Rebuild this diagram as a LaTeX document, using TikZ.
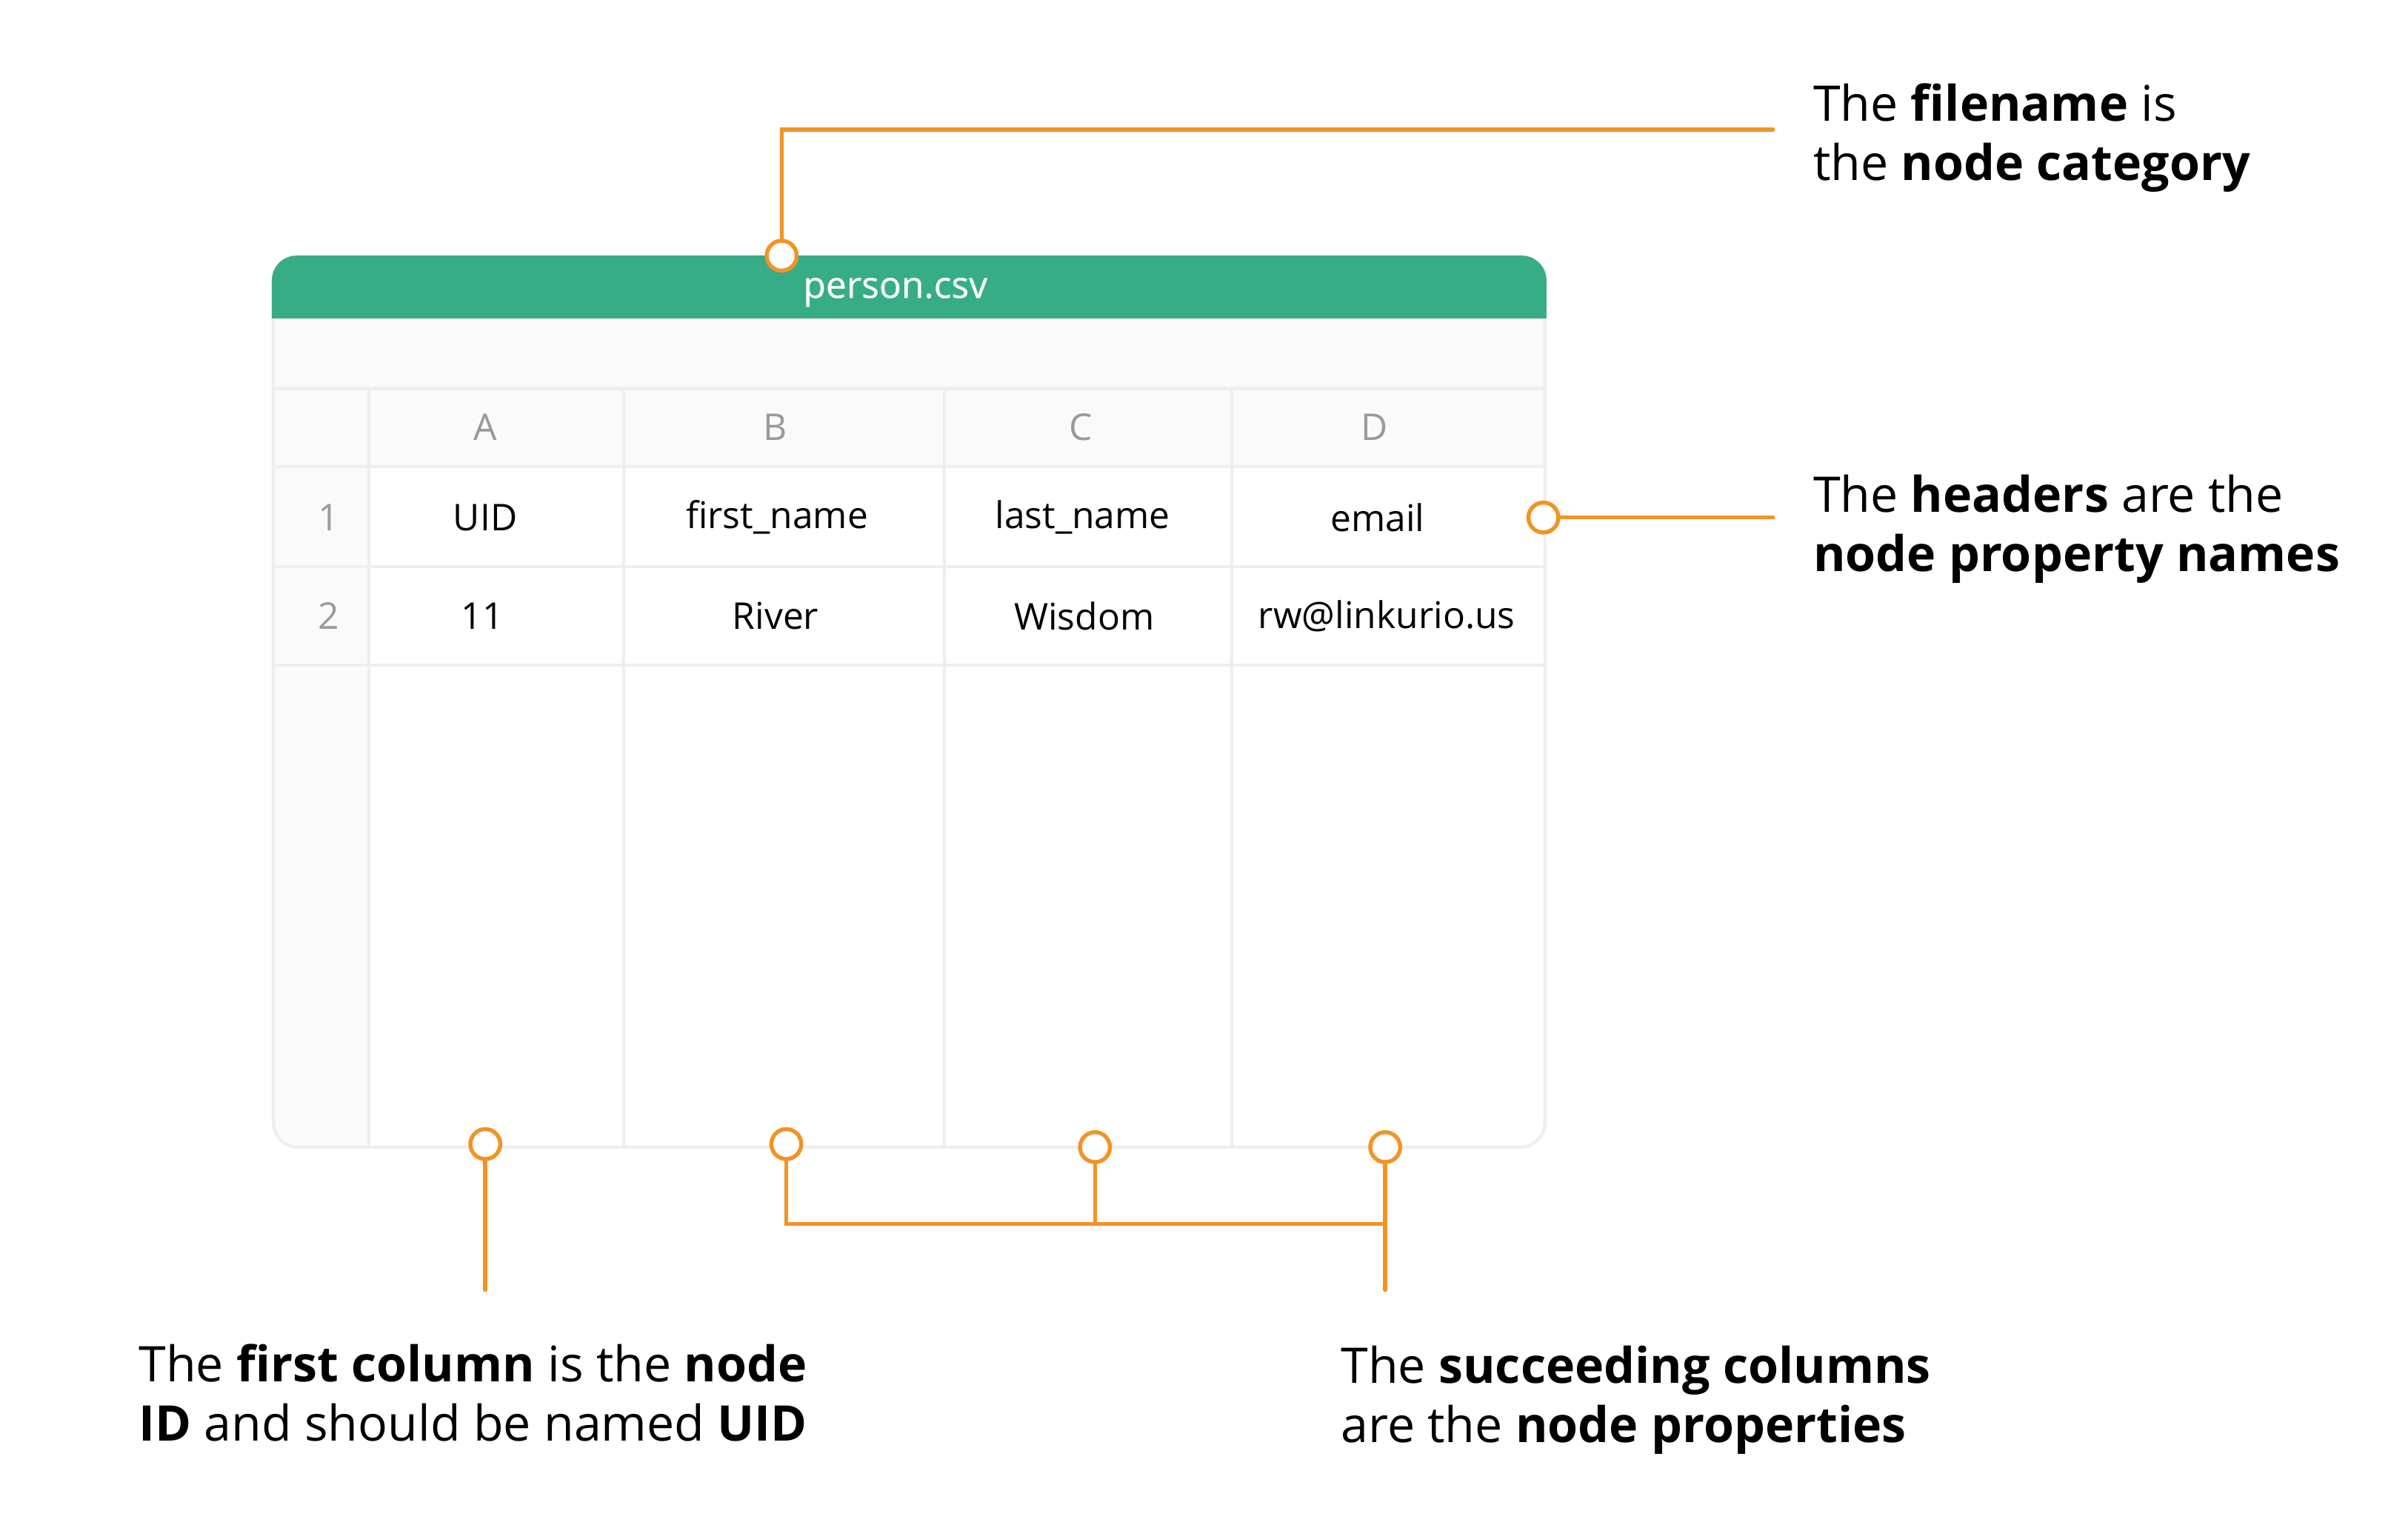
\documentclass[tikz,border=0pt]{standalone}
\usepackage{fontspec}
\setmainfont{Open Sans}
\newfontfamily\titlefont[FakeBold=0.5]{Open Sans}
\usetikzlibrary{positioning}

\definecolor{csvgreen}{HTML}{36AD86}
\definecolor{csvorange}{HTML}{F39323}
\definecolor{gridgray}{HTML}{EEEEEE}
\definecolor{cellgray}{HTML}{FAFAFA}
\definecolor{lettergray}{HTML}{9A9A9A}

\newcommand{\notefont}{\fontsize{32}{38.6}\selectfont}
\newcommand{\cellfont}{\fontsize{24}{28}\selectfont}

\tikzset{
  knob/.style={circle, draw=csvorange, line width=2.6pt, fill=white,
    minimum size=19.5pt, inner sep=0pt},
  link/.style={draw=csvorange, line width=2.6pt, line cap=round},
  gridline/.style={draw=gridgray, line width=2pt},
  cell/.style={font=\cellfont, inner sep=0pt},
  colname/.style={cell, text=lettergray},
  note/.style={anchor=north west, align=left, inner sep=0pt, font=\notefont}
}

\begin{document}
\begin{tikzpicture}[x=1pt, y=-1pt]
    \useasboundingbox (0,0) rectangle (1568,995);
    % Table body
    \fill[white, rounded corners=16pt] (178,167) rectangle (1006,747);
    \begin{scope}
      \clip[rounded corners=16pt] (178,167) rectangle (1006,747);
      \fill[cellgray] (178,207) rectangle (1006,304);
      \fill[cellgray] (178,304) rectangle (240,747);
    \end{scope}
    % Grid lines
    \foreach \y in {253,304,369,433}
      \draw[gridline] (178,\y) -- (1006,\y);
    \foreach \x in {240,406,615,802}
      \draw[gridline] (\x,253) -- (\x,747);
    \draw[draw=gridgray, line width=2pt, rounded corners=16pt]
      (178,167) rectangle (1006,747);
    % Green title bar
    \begin{scope}
      \clip (170,150) rectangle (1015,207);
      \fill[csvgreen, rounded corners=16pt] (177,166.5) rectangle (1007,240);
    \end{scope}
    \node[cell, font=\titlefont\cellfont, text=white, anchor=base] (title)
      at (583,194) {person.csv};

    % Column letters
    \node[colname] (colA) at (316,278) {A};
    \node[colname] (colB) at (505,278) {B};
    \node[colname] (colC) at (704,278) {C};
    \node[colname] (colD) at (895,278) {D};
    % Row 1
    \node[colname] (row1) at (214,337) {1};
    \node[cell] (uid) at (316,337) {UID};
    \node[cell] (first) at (506,337) {first\_name};
    \node[cell] (last) at (705,337) {last\_name};
    \node[cell] (email) at (897,337) {email};
    % Row 2
    \node[colname] (row2) at (214,401) {2};
    \node[cell] (uidval) at (314,401) {11};
    \node[cell] (firstval) at (505,401) {River};
    \node[cell] (lastval) at (706,401) {Wisdom};
    \node[cell] (emailval) at (903,401) {rw@linkurio.us};

    % Callout knobs
    \node[knob] (fc) at (509,166.5) {};
    \node[knob] (hc) at (1005,337) {};
    \node[knob] (ca) at (316,745) {};
    \node[knob] (cb) at (512,745) {};
    \node[knob] (cc) at (713,747) {};
    \node[knob] (cd) at (902,747) {};

    \coordinate (fileend) at (1154.5,84.4);
    \coordinate (headend) at (1154.5,337);
    \coordinate (uidend) at (316,840);
    \coordinate (bar) at (902,797);
    \coordinate (propend) at (902,840);

    \draw[link] (fc.north) |- (fileend);
    \draw[link] (hc.east) -- (headend);
    \draw[link] (ca.south) -- (uidend);
    \draw[link] (cb.south) |- (bar);
    \draw[link] (cc.south) -- (cc.south |- bar);
    \draw[link] (cd.south) -- (propend);

    % Notes
    \node[note] (filenote) at (1180.5,54.3)
      {The \textbf{filename} is\\the \textbf{node category}};
    \node[note] (headnote) at (1180.5,309.2)
      {The \textbf{headers} are the\\\textbf{node property names}};
    \node[note] (uidnote) at (90.2,875.1)
      {The \textbf{first column} is the \textbf{node}\\\textbf{ID} and should be named \textbf{UID}};
    \node[note] (propnote) at (873,876.2)
      {The \textbf{succeeding columns}\\are the \textbf{node properties}};
  \end{tikzpicture}
\end{document}
